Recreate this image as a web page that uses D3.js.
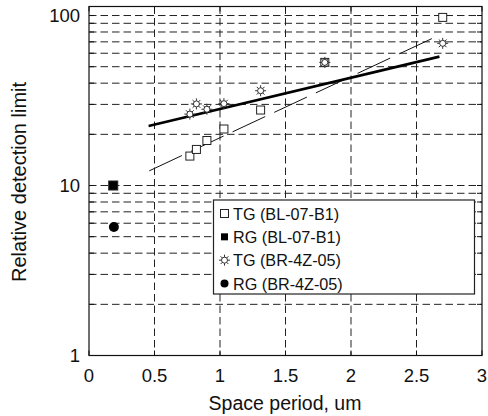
<!DOCTYPE html>
<html>
<head>
<meta charset="utf-8">
<script src="https://cdn.jsdelivr.net/npm/d3@7"></script>
<style>
  body { margin: 0; background: #fff; }
  text { font-family: "Liberation Sans", Arial, sans-serif; fill: #111; }
</style>
</head>
<body>
<div id="chart"></div>
<script>
// data
const tgBlX = [0.77, 0.82, 0.90, 1.03, 1.31, 1.80, 2.70];
const tgBlY = [14.9, 16.3, 18.4, 21.5, 27.8, 53, 97.5];
const tgBrX = [0.77, 0.82, 0.90, 1.03, 1.31, 1.80, 2.70];
const tgBrY = [26.3, 30.2, 28.1, 30.3, 36.1, 53, 68.6];
const rgBlX = [0.185];
const rgBlY = [10];
const rgBrX = [0.19];
const rgBrY = [5.7];
// fitted lines (end points)
const fitBrX = [0.455, 2.675];
const fitBrY = [22.4, 57.3];
const fitBlX = [0.46, 2.665];
const fitBlY = [12.2, 76.1];

const xTicks = [0, 0.5, 1, 1.5, 2, 2.5, 3];
const yLabels = [1, 10, 100];
const legendNames = ["TG (BL-07-B1)", "RG (BL-07-B1)", "TG (BR-4Z-05)", "RG (BR-4Z-05)"];

const width = 488, height = 416;
const margin = {top: 6.5, right: 6, bottom: 60.5, left: 89};
const w = width - margin.left - margin.right;
const h = height - margin.top - margin.bottom;

let svg = d3.select("#chart")
  .append("svg")
  .attr("width", width)
  .attr("height", height);

let g = svg.append("g")
  .attr("transform", `translate(${margin.left}, ${margin.top})`);

let x = d3.scaleLinear().domain([0, 3]).range([0, w]);
let y = d3.scaleLog().domain([1, 113]).range([h, 0]);

// minor values for grid and ticks
let minor = [];
for (let dec of [1, 10]) {
  for (let k = 1; k <= 9; k++) minor.push(dec * k);
}
minor.push(100);

// horizontal grid
g.selectAll(".hgrid")
  .data(minor.filter(d => d > 1))
  .enter().append("line")
  .attr("x1", 0).attr("x2", w)
  .attr("y1", d => y(d)).attr("y2", d => y(d))
  .attr("stroke", "#222")
  .attr("stroke-width", 1)
  .attr("stroke-dasharray", "7.5,4");

// vertical grid
g.selectAll(".vgrid")
  .data(xTicks.filter(d => d > 0 && d < 3))
  .enter().append("line")
  .attr("x1", d => x(d)).attr("x2", d => x(d))
  .attr("y1", 0).attr("y2", h)
  .attr("stroke", "#222")
  .attr("stroke-width", 1)
  .attr("stroke-dasharray", "7.5,4");

// inward ticks on all four sides
g.selectAll(".lt")
  .data(minor)
  .enter().append("line")
  .attr("x1", 0).attr("x2", 5)
  .attr("y1", d => y(d)).attr("y2", d => y(d))
  .attr("stroke", "#111");
g.selectAll(".rt")
  .data(minor)
  .enter().append("line")
  .attr("x1", w - 5).attr("x2", w)
  .attr("y1", d => y(d)).attr("y2", d => y(d))
  .attr("stroke", "#111");
g.selectAll(".bt")
  .data(xTicks)
  .enter().append("line")
  .attr("x1", d => x(d)).attr("x2", d => x(d))
  .attr("y1", h - 5).attr("y2", h)
  .attr("stroke", "#111");
g.selectAll(".tt")
  .data(xTicks)
  .enter().append("line")
  .attr("x1", d => x(d)).attr("x2", d => x(d))
  .attr("y1", 0).attr("y2", 5)
  .attr("stroke", "#111");

// frame
g.append("rect")
  .attr("width", w).attr("height", h)
  .attr("fill", "none")
  .attr("stroke", "#111")
  .attr("stroke-width", 1.2);

// tick labels
g.selectAll(".xl")
  .data(xTicks)
  .enter().append("text")
  .attr("x", d => x(d))
  .attr("y", h + 26)
  .attr("text-anchor", "middle")
  .style("font-size", "18.5px")
  .text(d => d);

g.selectAll(".yl")
  .data(yLabels)
  .enter().append("text")
  .attr("x", -9)
  .attr("y", d => y(d) + 6.5)
  .attr("text-anchor", "end")
  .style("font-size", "18.5px")
  .text(d => d);

// axis titles
g.append("text")
  .attr("x", w / 2 - 0.5)
  .attr("y", h + 54)
  .attr("text-anchor", "middle")
  .style("font-size", "19.5px")
  .text("Space period, um");

g.append("text")
  .attr("transform", `translate(-63, ${h / 2 + 1}) rotate(-90)`)
  .attr("text-anchor", "middle")
  .style("font-size", "20px")
  .text("Relative detection limit");

// fit lines
let line = d3.line()
  .x(d => x(d[0]))
  .y(d => y(d[1]));

g.append("path")
  .attr("d", line(d3.zip(fitBlX, fitBlY)))
  .attr("fill", "none")
  .attr("stroke", "#111")
  .attr("stroke-width", 1)
  .attr("stroke-dasharray", "36,10");

g.append("path")
  .attr("d", line(d3.zip(fitBrX, fitBrY)))
  .attr("fill", "none")
  .attr("stroke", "#000")
  .attr("stroke-width", 2.6);

// markers
function starPath(r0, r1) {
  let p = d3.path();
  p.moveTo(r0, 0);
  p.arc(0, 0, r0, 0, 2 * Math.PI);
  for (let i = 0; i < 8; i++) {
    let a = i * Math.PI / 4;
    p.moveTo(r0 * Math.cos(a), r0 * Math.sin(a));
    p.lineTo(r1 * Math.cos(a), r1 * Math.sin(a));
  }
  return p.toString();
}

function drawSquares(sel, xs, ys, size, filled) {
  sel.selectAll(null)
    .data(d3.zip(xs, ys))
    .enter().append("rect")
    .attr("x", d => x(d[0]) - size / 2)
    .attr("y", d => y(d[1]) - size / 2)
    .attr("width", size).attr("height", size)
    .attr("fill", filled ? "#000" : "#fff")
    .attr("stroke", "#222")
    .attr("stroke-width", 1);
}

function drawStars(sel, xs, ys) {
  sel.selectAll(null)
    .data(d3.zip(xs, ys))
    .enter().append("path")
    .attr("transform", d => `translate(${x(d[0])}, ${y(d[1])})`)
    .attr("d", starPath(3, 5.5))
    .attr("fill", "#fff")
    .attr("stroke", "#333")
    .attr("stroke-width", 1);
}

function drawDots(sel, xs, ys, r) {
  sel.selectAll(null)
    .data(d3.zip(xs, ys))
    .enter().append("circle")
    .attr("cx", d => x(d[0]))
    .attr("cy", d => y(d[1]))
    .attr("r", r)
    .attr("fill", "#000");
}

let marks = g.append("g");
drawSquares(marks, tgBlX, tgBlY, 8, false);
drawStars(marks, tgBrX, tgBrY);
drawSquares(marks, rgBlX, rgBlY, 9, true);
drawDots(marks, rgBrX, rgBrY, 5);

// legend
let lg = svg.append("g").attr("transform", "translate(213.5, 200)");
lg.append("rect")
  .attr("width", 261).attr("height", 94)
  .attr("fill", "#fff")
  .attr("stroke", "#222")
  .attr("stroke-width", 1.2);

let rowY = d3.scalePoint().domain(legendNames).range([13.5, 83.5]);

lg.selectAll(".lt")
  .data(legendNames)
  .enter().append("text")
  .attr("x", 19.5)
  .attr("y", d => rowY(d) + 6)
  .style("font-size", "16.2px")
  .text(d => d);

lg.append("rect")
  .attr("x", 7).attr("y", rowY(legendNames[0]) - 4)
  .attr("width", 8).attr("height", 8)
  .attr("fill", "#fff").attr("stroke", "#222");
lg.append("rect")
  .attr("x", 7.5).attr("y", rowY(legendNames[1]) - 3.5)
  .attr("width", 7).attr("height", 7)
  .attr("fill", "#000");
lg.append("path")
  .attr("transform", `translate(11, ${rowY(legendNames[2])})`)
  .attr("d", starPath(3, 5.5))
  .attr("fill", "#fff").attr("stroke", "#333");
lg.append("circle")
  .attr("cx", 11).attr("cy", rowY(legendNames[3]))
  .attr("r", 4).attr("fill", "#000");
</script>
</body>
</html>
